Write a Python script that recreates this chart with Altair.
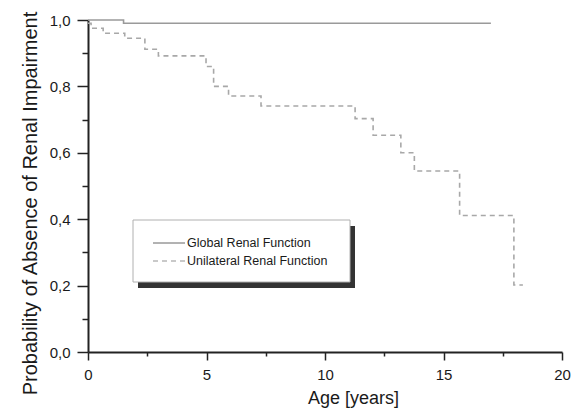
import altair as alt
import pandas as pd

# Kaplan-Meier style step data
global_x = [0.0, 1.5, 17.0]
global_y = [1.0, 0.99, 0.99]

uni_x = [0.0, 0.13, 0.64, 1.55, 2.4, 2.97, 4.98, 5.3, 5.93, 7.3, 11.27, 12.03, 13.2, 13.77, 15.68, 17.97, 18.35]
uni_y = [0.99, 0.975, 0.96, 0.945, 0.912, 0.892, 0.86, 0.80, 0.771, 0.741, 0.703, 0.653, 0.60, 0.545, 0.411, 0.202, 0.202]

series = ["Global Renal Function", "Unilateral Renal Function"]
x_ticks = [0, 2.5, 5, 7.5, 10, 12.5, 15, 17.5, 20]
y_ticks = [0, 0.1, 0.2, 0.3, 0.4, 0.5, 0.6, 0.7, 0.8, 0.9, 1.0]

rows = []
for x, y in zip(global_x, global_y):
    rows.append({"age": x, "p": y, "s": series[0]})
for x, y in zip(uni_x, uni_y):
    rows.append({"age": x, "p": y, "s": series[1]})
df = pd.DataFrame(rows)

FONT = "Liberation Sans"
one = pd.DataFrame({"k": [0]})

lines = alt.Chart(df).mark_line(interpolate="step-after", strokeWidth=1.6).encode(
    x=alt.X("age:Q", scale=alt.Scale(domain=[0, 20], nice=False, zero=False),
            axis=alt.Axis(values=x_ticks, title="Age [years]", labelFlush=False,
                          labelExpr="datum.value % 5 == 0 ? datum.label : ''",
                          tickSize={"condition": {"test": "datum.value % 5 != 0", "value": 4}, "value": 8},
                          labelPadding=7, titleX=265, titlePadding=7)),
    y=alt.Y("p:Q", scale=alt.Scale(domain=[0, 1], nice=False),
            axis=alt.Axis(values=y_ticks, title="Probability of Absence of Renal Impairment",
                          labelExpr="(round(datum.value*10) % 2 == 0) ? replace(format(datum.value, '.1f'), '.', ',') : ''",
                          tickSize={"condition": {"test": "round(datum.value*10) % 2 != 0", "value": 6}, "value": 11},
                          labelPadding=7, titlePadding=9, titleFontSize=20, titleY=183)),
    color=alt.Color("s:N", scale=alt.Scale(domain=series, range=["#9a9a9a", "#a8a8a8"]), legend=None),
    strokeDash=alt.StrokeDash("s:N", scale=alt.Scale(domain=series, range=[[1, 0], [5, 4]]), legend=None),
)

# legend decoration (box with drop shadow)
shadow = alt.Chart(one).mark_rect(color="#333333").encode(
    x=alt.value(50), x2=alt.value(267), y=alt.value(206), y2=alt.value(268)
)
box = alt.Chart(one).mark_rect(fill="white", stroke="#b0b0b0", strokeWidth=1).encode(
    x=alt.value(45), x2=alt.value(262), y=alt.value(200), y2=alt.value(262)
)
leg_line1 = alt.Chart(one).mark_rule(color="#666666", strokeWidth=1).encode(
    x=alt.value(65), x2=alt.value(97), y=alt.value(223)
)
leg_line2 = alt.Chart(one).mark_rule(color="#b8b8b8", strokeWidth=1.3, strokeDash=[5, 4]).encode(
    x=alt.value(65), x2=alt.value(97), y=alt.value(241)
)
leg_text1 = alt.Chart(one).mark_text(align="left", baseline="middle", font=FONT, fontSize=12.5,
                                     color="#1a1a1a").encode(
    x=alt.value(99), y=alt.value(223), text=alt.value(series[0])
)
leg_text2 = alt.Chart(one).mark_text(align="left", baseline="middle", font=FONT, fontSize=12.5,
                                     color="#1a1a1a").encode(
    x=alt.value(99), y=alt.value(241), text=alt.value(series[1])
)

chart = alt.layer(lines, shadow, box, leg_line1, leg_line2, leg_text1, leg_text2).properties(
    width=474, height=332,
    autosize=alt.AutoSizeParams(type="none"),
    padding={"left": 80, "top": 12, "right": 10, "bottom": 62},
).configure_view(stroke=None).configure_axis(
    domainColor="#222", domainWidth=2, tickColor="#222", tickWidth=1.5,
    labelFont=FONT, labelFontSize=15, labelColor="#1a1a1a",
    titleFont=FONT, titleFontSize=18, titleFontWeight="normal", titleColor="#1a1a1a",
    grid=False,
)

chart.save("out.html", embed_options={"renderer": "svg", "actions": False})
